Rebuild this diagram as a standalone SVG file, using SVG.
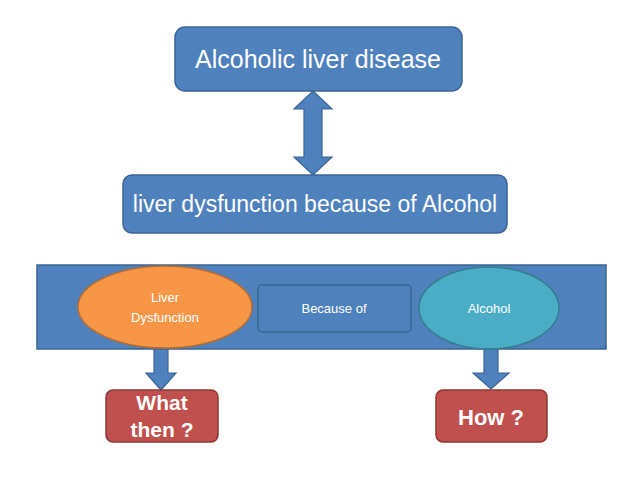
<svg xmlns="http://www.w3.org/2000/svg" width="638" height="479" viewBox="0 0 638 479">
<style>
.blue{fill:#4F81BD;stroke:#3B6493;stroke-width:1.5}
.red{fill:#C0504D;stroke:#8C3836;stroke-width:1.5}
.arrow{fill:#4F81BD;stroke:#3B6493;stroke-width:1.2}
text{font-family:"Liberation Sans",Arial,sans-serif;fill:#FFFFFF;text-anchor:middle}
.big{font-size:25px}
.mid{font-size:23px}
.small{font-size:13px}
.bold{font-size:21px;font-weight:bold}
.bold2{font-size:22px;font-weight:bold}
</style>
<rect width="638" height="479" fill="#FFFFFF"/>
<g id="connectors">
<path class="arrow" d="M313,91 L332,109 L322,109 L322,157 L332,157 L313,175 L294,157 L304,157 L304,109 L294,109 Z"/>
<path class="arrow" d="M154,349 L168,349 L168,373 L176,373 L161,390 L146,373 L154,373 Z"/>
<path class="arrow" d="M484,349 L498,349 L498,373 L509,373 L491,389 L473,373 L484,373 Z"/>
</g>
<g id="alcoholic-liver-disease">
<rect class="blue" x="175" y="27" width="287" height="64" rx="10"/>
<text class="big" x="318" y="68">Alcoholic liver disease</text>
</g>
<g id="liver-dysfunction-because-of-alcohol">
<rect class="blue" x="123" y="175" width="384" height="58" rx="9"/>
<text class="mid" x="315" y="212">liver dysfunction because of Alcohol</text>
</g>
<g id="band">
<rect class="blue" x="37" y="265" width="569" height="84"/>
</g>
<g id="liver-dysfunction">
<ellipse cx="165" cy="307" rx="87" ry="41" fill="#F79646" stroke="#B66D31" stroke-width="1.5"/>
<text class="small" x="165" y="302">Liver</text>
<text class="small" x="165" y="322">Dysfunction</text>
</g>
<g id="because-of">
<rect class="blue" x="258" y="285" width="153" height="47" rx="4"/>
<text class="small" x="334" y="313">Because of</text>
</g>
<g id="alcohol">
<ellipse cx="489" cy="308" rx="70" ry="41" fill="#4BACC6" stroke="#357D91" stroke-width="1.5"/>
<text class="small" x="489" y="313">Alcohol</text>
</g>
<g id="what-then">
<rect class="red" x="106" y="390" width="112" height="52" rx="7"/>
<text class="bold" x="162" y="410">What</text>
<text class="bold" x="162" y="437">then ?</text>
</g>
<g id="how">
<rect class="red" x="436" y="390" width="111" height="52" rx="7"/>
<text class="bold2" x="491" y="425">How ?</text>
</g>
</svg>
